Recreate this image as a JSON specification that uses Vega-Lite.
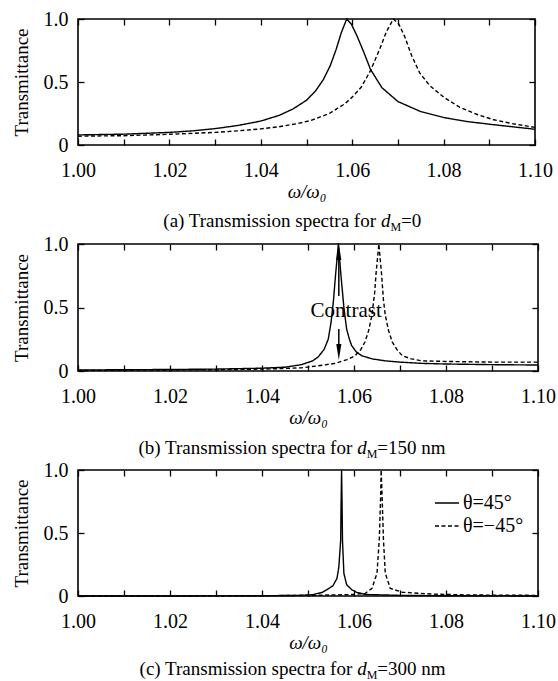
{
  "$schema": "https://vega.github.io/schema/vega-lite/v6.json",
  "background": "white",
  "padding": {"top": 8, "left": 11, "right": 4, "bottom": 0},
  "bounds": "flush",
  "spacing": 99,
  "config": {
    "font": "Liberation Serif",
    "view": {"stroke": "black", "strokeWidth": 1.6},
    "axis": {
      "labelFont": "Liberation Serif", "titleFont": "Liberation Serif",
      "labelFontSize": 20, "titleFontSize": 19, "labelColor": "black", "titleColor": "black",
      "titleFontWeight": "normal", "domain": false, "grid": false,
      "tickColor": "black", "tickSize": -6, "tickWidth": 1.3, "labelOverlap": false, "labelFlush": false
    },
    "text": {"font": "Liberation Serif", "color": "black"},
    "line": {"color": "black", "strokeWidth": 1.4, "strokeJoin": "round"}
  },
  "datasets": {
    "a": [
      {"w": 1.000, "T": 0.080, "s": "θ=45°"}, {"w": 1.010, "T": 0.086, "s": "θ=45°"}, {"w": 1.020, "T": 0.100, "s": "θ=45°"},
      {"w": 1.025, "T": 0.112, "s": "θ=45°"}, {"w": 1.030, "T": 0.130, "s": "θ=45°"}, {"w": 1.035, "T": 0.155, "s": "θ=45°"},
      {"w": 1.040, "T": 0.190, "s": "θ=45°"}, {"w": 1.044, "T": 0.235, "s": "θ=45°"}, {"w": 1.047, "T": 0.285, "s": "θ=45°"},
      {"w": 1.050, "T": 0.355, "s": "θ=45°"}, {"w": 1.052, "T": 0.430, "s": "θ=45°"}, {"w": 1.0537, "T": 0.520, "s": "θ=45°"},
      {"w": 1.0552, "T": 0.630, "s": "θ=45°"}, {"w": 1.0565, "T": 0.760, "s": "θ=45°"}, {"w": 1.0576, "T": 0.890, "s": "θ=45°"},
      {"w": 1.0588, "T": 1.000, "s": "θ=45°"}, {"w": 1.0598, "T": 0.960, "s": "θ=45°"}, {"w": 1.061, "T": 0.870, "s": "θ=45°"},
      {"w": 1.0625, "T": 0.740, "s": "θ=45°"}, {"w": 1.064, "T": 0.600, "s": "θ=45°"}, {"w": 1.0665, "T": 0.455, "s": "θ=45°"},
      {"w": 1.070, "T": 0.345, "s": "θ=45°"}, {"w": 1.075, "T": 0.265, "s": "θ=45°"}, {"w": 1.080, "T": 0.218, "s": "θ=45°"},
      {"w": 1.085, "T": 0.187, "s": "θ=45°"}, {"w": 1.090, "T": 0.165, "s": "θ=45°"}, {"w": 1.095, "T": 0.145, "s": "θ=45°"},
      {"w": 1.100, "T": 0.125, "s": "θ=45°"},
      {"w": 1.000, "T": 0.070, "s": "θ=−45°"}, {"w": 1.010, "T": 0.074, "s": "θ=−45°"}, {"w": 1.020, "T": 0.085, "s": "θ=−45°"},
      {"w": 1.030, "T": 0.100, "s": "θ=−45°"}, {"w": 1.035, "T": 0.112, "s": "θ=−45°"}, {"w": 1.040, "T": 0.128, "s": "θ=−45°"},
      {"w": 1.044, "T": 0.145, "s": "θ=−45°"}, {"w": 1.048, "T": 0.170, "s": "θ=−45°"}, {"w": 1.051, "T": 0.195, "s": "θ=−45°"},
      {"w": 1.055, "T": 0.250, "s": "θ=−45°"}, {"w": 1.0585, "T": 0.330, "s": "θ=−45°"}, {"w": 1.060, "T": 0.380, "s": "θ=−45°"},
      {"w": 1.062, "T": 0.460, "s": "θ=−45°"}, {"w": 1.064, "T": 0.590, "s": "θ=−45°"}, {"w": 1.066, "T": 0.760, "s": "θ=−45°"},
      {"w": 1.0675, "T": 0.900, "s": "θ=−45°"}, {"w": 1.069, "T": 1.000, "s": "θ=−45°"}, {"w": 1.0702, "T": 0.960, "s": "θ=−45°"},
      {"w": 1.0715, "T": 0.860, "s": "θ=−45°"}, {"w": 1.073, "T": 0.710, "s": "θ=−45°"}, {"w": 1.0748, "T": 0.570, "s": "θ=−45°"},
      {"w": 1.077, "T": 0.470, "s": "θ=−45°"}, {"w": 1.080, "T": 0.380, "s": "θ=−45°"}, {"w": 1.0835, "T": 0.300, "s": "θ=−45°"},
      {"w": 1.0875, "T": 0.240, "s": "θ=−45°"}, {"w": 1.091, "T": 0.200, "s": "θ=−45°"}, {"w": 1.095, "T": 0.170, "s": "θ=−45°"},
      {"w": 1.100, "T": 0.140, "s": "θ=−45°"}
    ],
    "b": [
      {"w": 1.000, "T": 0.008, "s": "θ=45°"}, {"w": 1.010, "T": 0.010, "s": "θ=45°"}, {"w": 1.020, "T": 0.012, "s": "θ=45°"},
      {"w": 1.030, "T": 0.015, "s": "θ=45°"}, {"w": 1.040, "T": 0.022, "s": "θ=45°"}, {"w": 1.045, "T": 0.030, "s": "θ=45°"},
      {"w": 1.0486, "T": 0.050, "s": "θ=45°"}, {"w": 1.051, "T": 0.080, "s": "θ=45°"}, {"w": 1.0522, "T": 0.110, "s": "θ=45°"},
      {"w": 1.0535, "T": 0.170, "s": "θ=45°"}, {"w": 1.0544, "T": 0.250, "s": "θ=45°"}, {"w": 1.055, "T": 0.380, "s": "θ=45°"},
      {"w": 1.0555, "T": 0.540, "s": "θ=45°"}, {"w": 1.056, "T": 0.760, "s": "θ=45°"}, {"w": 1.0566, "T": 1.000, "s": "θ=45°"},
      {"w": 1.0572, "T": 0.740, "s": "θ=45°"}, {"w": 1.0578, "T": 0.500, "s": "θ=45°"}, {"w": 1.0584, "T": 0.330, "s": "θ=45°"},
      {"w": 1.059, "T": 0.250, "s": "θ=45°"}, {"w": 1.0595, "T": 0.200, "s": "θ=45°"}, {"w": 1.0605, "T": 0.150, "s": "θ=45°"},
      {"w": 1.0617, "T": 0.120, "s": "θ=45°"}, {"w": 1.064, "T": 0.095, "s": "θ=45°"}, {"w": 1.0668, "T": 0.080, "s": "θ=45°"},
      {"w": 1.070, "T": 0.070, "s": "θ=45°"}, {"w": 1.0748, "T": 0.060, "s": "θ=45°"}, {"w": 1.080, "T": 0.055, "s": "θ=45°"},
      {"w": 1.090, "T": 0.050, "s": "θ=45°"}, {"w": 1.100, "T": 0.047, "s": "θ=45°"},
      {"w": 1.000, "T": 0.004, "s": "θ=−45°"}, {"w": 1.010, "T": 0.006, "s": "θ=−45°"}, {"w": 1.020, "T": 0.008, "s": "θ=−45°"},
      {"w": 1.030, "T": 0.010, "s": "θ=−45°"}, {"w": 1.040, "T": 0.015, "s": "θ=−45°"}, {"w": 1.045, "T": 0.020, "s": "θ=−45°"},
      {"w": 1.0486, "T": 0.025, "s": "θ=−45°"}, {"w": 1.052, "T": 0.040, "s": "θ=−45°"}, {"w": 1.0559, "T": 0.060, "s": "θ=−45°"},
      {"w": 1.0585, "T": 0.090, "s": "θ=−45°"}, {"w": 1.0602, "T": 0.120, "s": "θ=−45°"}, {"w": 1.0615, "T": 0.170, "s": "θ=−45°"},
      {"w": 1.0624, "T": 0.230, "s": "θ=−45°"}, {"w": 1.0632, "T": 0.320, "s": "θ=−45°"}, {"w": 1.0639, "T": 0.440, "s": "θ=−45°"},
      {"w": 1.0645, "T": 0.620, "s": "θ=−45°"}, {"w": 1.0648, "T": 0.770, "s": "θ=−45°"}, {"w": 1.0654, "T": 1.000, "s": "θ=−45°"},
      {"w": 1.066, "T": 0.760, "s": "θ=−45°"}, {"w": 1.0664, "T": 0.560, "s": "θ=−45°"}, {"w": 1.0668, "T": 0.440, "s": "θ=−45°"},
      {"w": 1.0675, "T": 0.320, "s": "θ=−45°"}, {"w": 1.0683, "T": 0.230, "s": "θ=−45°"}, {"w": 1.0693, "T": 0.170, "s": "θ=−45°"},
      {"w": 1.0705, "T": 0.120, "s": "θ=−45°"}, {"w": 1.0725, "T": 0.095, "s": "θ=−45°"}, {"w": 1.0748, "T": 0.080, "s": "θ=−45°"},
      {"w": 1.080, "T": 0.075, "s": "θ=−45°"}, {"w": 1.090, "T": 0.070, "s": "θ=−45°"}, {"w": 1.100, "T": 0.070, "s": "θ=−45°"}
    ],
    "c": [
      {"w": 1.000, "T": 0.000, "s": "θ=45°"}, {"w": 1.020, "T": 0.000, "s": "θ=45°"}, {"w": 1.040, "T": 0.002, "s": "θ=45°"},
      {"w": 1.048, "T": 0.005, "s": "θ=45°"}, {"w": 1.051, "T": 0.010, "s": "θ=45°"}, {"w": 1.0532, "T": 0.030, "s": "θ=45°"},
      {"w": 1.0554, "T": 0.080, "s": "θ=45°"}, {"w": 1.0563, "T": 0.140, "s": "θ=45°"}, {"w": 1.0567, "T": 0.230, "s": "θ=45°"},
      {"w": 1.0571, "T": 0.440, "s": "θ=45°"}, {"w": 1.0572, "T": 0.750, "s": "θ=45°"}, {"w": 1.0573, "T": 1.000, "s": "θ=45°"},
      {"w": 1.0574, "T": 0.750, "s": "θ=45°"}, {"w": 1.0575, "T": 0.440, "s": "θ=45°"}, {"w": 1.0578, "T": 0.180, "s": "θ=45°"},
      {"w": 1.0584, "T": 0.090, "s": "θ=45°"}, {"w": 1.0595, "T": 0.050, "s": "θ=45°"}, {"w": 1.0605, "T": 0.030, "s": "θ=45°"},
      {"w": 1.0625, "T": 0.012, "s": "θ=45°"}, {"w": 1.070, "T": 0.005, "s": "θ=45°"}, {"w": 1.080, "T": 0.002, "s": "θ=45°"},
      {"w": 1.100, "T": 0.000, "s": "θ=45°"},
      {"w": 1.000, "T": 0.000, "s": "θ=−45°"}, {"w": 1.040, "T": 0.002, "s": "θ=−45°"}, {"w": 1.050, "T": 0.005, "s": "θ=−45°"},
      {"w": 1.055, "T": 0.008, "s": "θ=−45°"}, {"w": 1.060, "T": 0.012, "s": "θ=−45°"}, {"w": 1.0624, "T": 0.020, "s": "θ=−45°"},
      {"w": 1.0639, "T": 0.060, "s": "θ=−45°"}, {"w": 1.065, "T": 0.180, "s": "θ=−45°"}, {"w": 1.0655, "T": 0.450, "s": "θ=−45°"},
      {"w": 1.0658, "T": 0.800, "s": "θ=−45°"}, {"w": 1.0659, "T": 1.000, "s": "θ=−45°"}, {"w": 1.0661, "T": 0.800, "s": "θ=−45°"},
      {"w": 1.0664, "T": 0.450, "s": "θ=−45°"}, {"w": 1.0668, "T": 0.180, "s": "θ=−45°"}, {"w": 1.0679, "T": 0.060, "s": "θ=−45°"},
      {"w": 1.0705, "T": 0.030, "s": "θ=−45°"}, {"w": 1.077, "T": 0.015, "s": "θ=−45°"}, {"w": 1.085, "T": 0.008, "s": "θ=−45°"},
      {"w": 1.100, "T": 0.005, "s": "θ=−45°"}
    ]
  },
  "resolve": {"scale": {"strokeDash": "independent"}, "legend": {"strokeDash": "independent"}},
  "vconcat": [
    {
      "width": 457, "height": 126,
      "resolve": {"axis": {"x": "independent", "y": "independent"}},
      "layer": [
        {
          "data": {"name": "a"},
          "mark": {"type": "line"},
          "encoding": {
            "x": {"field": "w", "type": "quantitative",
              "scale": {"domain": [1, 1.1], "nice": false, "zero": false},
              "axis": {"orient": "bottom", "values": [1, 1.01, 1.02, 1.03, 1.04, 1.05, 1.06, 1.07, 1.08, 1.09, 1.1],
                "labelExpr": "round(datum.value * 100) % 2 == 0 ? format(datum.value, '.2f') : ''",
                "labelPadding": 21, "title": "ω/ω₀", "titleFontStyle": "italic", "titlePadding": 2}},
            "y": {"field": "T", "type": "quantitative",
              "scale": {"domain": [0, 1], "nice": false},
              "axis": {"orient": "left", "values": [0, 0.5, 1],
                "labelExpr": "datum.value == 0 ? '0' : format(datum.value, '.1f')",
                "labelPadding": 16, "title": "Transmittance", "titlePadding": 12}},
            "strokeDash": {"field": "s", "type": "nominal",
              "scale": {"domain": ["θ=45°", "θ=−45°"], "range": [[1, 0], [4, 2.5]]}, "legend": null}
          }
        },
        {
          "data": {"values": [{}]},
          "mark": {"type": "text", "text": "(a) Transmission spectra for", "fontSize": 19, "align": "right", "baseline": "alphabetic", "dx": -5},
          "encoding": {
            "x": {"datum": 1.0663, "type": "quantitative",
              "axis": {"orient": "top", "values": [1, 1.01, 1.02, 1.03, 1.04, 1.05, 1.06, 1.07, 1.08, 1.09, 1.1], "labels": false, "title": null}},
            "y": {"datum": -0.65, "type": "quantitative",
              "axis": {"orient": "right", "values": [0, 0.5, 1], "labels": false, "title": null}}
          }
        },
        {
          "data": {"values": [{}]},
          "mark": {"type": "text", "text": "d", "fontSize": 19, "fontStyle": "italic", "align": "left", "baseline": "alphabetic"},
          "encoding": {"x": {"datum": 1.0663, "type": "quantitative", "axis": null}, "y": {"datum": -0.65, "type": "quantitative", "axis": null}}
        },
        {
          "data": {"values": [{}]},
          "mark": {"type": "text", "text": "M", "fontSize": 12, "align": "left", "baseline": "alphabetic", "dx": 9.5, "dy": 4},
          "encoding": {"x": {"datum": 1.0663, "type": "quantitative", "axis": null}, "y": {"datum": -0.65, "type": "quantitative", "axis": null}}
        },
        {
          "data": {"values": [{}]},
          "mark": {"type": "text", "text": "=0", "fontSize": 19, "align": "left", "baseline": "alphabetic", "dx": 20},
          "encoding": {"x": {"datum": 1.0663, "type": "quantitative", "axis": null}, "y": {"datum": -0.65, "type": "quantitative", "axis": null}}
        }
      ]
    },
    {
      "width": 460, "height": 127,
      "resolve": {"axis": {"x": "independent", "y": "independent"}},
      "layer": [
        {
          "data": {"name": "b"},
          "mark": {"type": "line"},
          "encoding": {
            "x": {"field": "w", "type": "quantitative",
              "scale": {"domain": [1, 1.1], "nice": false, "zero": false},
              "axis": {"orient": "bottom", "values": [1, 1.01, 1.02, 1.03, 1.04, 1.05, 1.06, 1.07, 1.08, 1.09, 1.1],
                "labelExpr": "round(datum.value * 100) % 2 == 0 ? format(datum.value, '.2f') : ''",
                "labelPadding": 21, "title": "ω/ω₀", "titleFontStyle": "italic", "titlePadding": 2}},
            "y": {"field": "T", "type": "quantitative",
              "scale": {"domain": [0, 1], "nice": false},
              "axis": {"orient": "left", "values": [0, 0.5, 1],
                "labelExpr": "datum.value == 0 ? '0' : format(datum.value, '.1f')",
                "labelPadding": 16, "title": "Transmittance", "titlePadding": 12}},
            "strokeDash": {"field": "s", "type": "nominal",
              "scale": {"domain": ["θ=45°", "θ=−45°"], "range": [[1, 0], [4, 2.5]]}, "legend": null}
          }
        },
        {
          "data": {"values": [{}]},
          "mark": {"type": "rule", "strokeWidth": 1.5, "color": "black"},
          "encoding": {"x": {"datum": 1.0567, "type": "quantitative", "axis": null},
            "y": {"datum": 0.59, "type": "quantitative", "axis": null}, "y2": {"datum": 0.93}}
        },
        {
          "data": {"values": [{}]},
          "mark": {"type": "rule", "strokeWidth": 1.5, "color": "black"},
          "encoding": {"x": {"datum": 1.0567, "type": "quantitative", "axis": null},
            "y": {"datum": 0.33, "type": "quantitative", "axis": null}, "y2": {"datum": 0.15}}
        },
        {
          "data": {"values": [{}]},
          "mark": {"type": "point", "shape": "M0,-1L0.32,1L-0.32,1Z", "size": 256, "filled": true, "color": "black", "opacity": 1},
          "encoding": {"x": {"datum": 1.0567, "type": "quantitative", "axis": null},
            "y": {"datum": 0.937, "type": "quantitative", "axis": null}}
        },
        {
          "data": {"values": [{}]},
          "mark": {"type": "point", "shape": "M0,1L0.32,-1L-0.32,-1Z", "size": 256, "filled": true, "color": "black", "opacity": 1},
          "encoding": {"x": {"datum": 1.0567, "type": "quantitative", "axis": null},
            "y": {"datum": 0.15, "type": "quantitative", "axis": null}}
        },
        {
          "data": {"values": [{}]},
          "mark": {"type": "text", "text": "Contrast", "fontSize": 21, "align": "center", "baseline": "middle"},
          "encoding": {"x": {"datum": 1.0583, "type": "quantitative", "axis": null},
            "y": {"datum": 0.47, "type": "quantitative", "axis": null}}
        },
        {
          "data": {"values": [{}]},
          "mark": {"type": "text", "text": "(b) Transmission spectra for", "fontSize": 19, "align": "right", "baseline": "alphabetic", "dx": -5},
          "encoding": {
            "x": {"datum": 1.0607, "type": "quantitative",
              "axis": {"orient": "top", "values": [1, 1.01, 1.02, 1.03, 1.04, 1.05, 1.06, 1.07, 1.08, 1.09, 1.1], "labels": false, "title": null}},
            "y": {"datum": -0.65, "type": "quantitative",
              "axis": {"orient": "right", "values": [0, 0.5, 1], "labels": false, "title": null}}
          }
        },
        {
          "data": {"values": [{}]},
          "mark": {"type": "text", "text": "d", "fontSize": 19, "fontStyle": "italic", "align": "left", "baseline": "alphabetic"},
          "encoding": {"x": {"datum": 1.0607, "type": "quantitative", "axis": null}, "y": {"datum": -0.65, "type": "quantitative", "axis": null}}
        },
        {
          "data": {"values": [{}]},
          "mark": {"type": "text", "text": "M", "fontSize": 12, "align": "left", "baseline": "alphabetic", "dx": 9.5, "dy": 4},
          "encoding": {"x": {"datum": 1.0607, "type": "quantitative", "axis": null}, "y": {"datum": -0.65, "type": "quantitative", "axis": null}}
        },
        {
          "data": {"values": [{}]},
          "mark": {"type": "text", "text": "=150 nm", "fontSize": 19, "align": "left", "baseline": "alphabetic", "dx": 20},
          "encoding": {"x": {"datum": 1.0607, "type": "quantitative", "axis": null}, "y": {"datum": -0.65, "type": "quantitative", "axis": null}}
        }
      ]
    },
    {
      "width": 460, "height": 126,
      "resolve": {"axis": {"x": "independent", "y": "independent"}},
      "layer": [
        {
          "data": {"name": "c"},
          "mark": {"type": "line"},
          "encoding": {
            "x": {"field": "w", "type": "quantitative",
              "scale": {"domain": [1, 1.1], "nice": false, "zero": false},
              "axis": {"orient": "bottom", "values": [1, 1.01, 1.02, 1.03, 1.04, 1.05, 1.06, 1.07, 1.08, 1.09, 1.1],
                "labelExpr": "round(datum.value * 100) % 2 == 0 ? format(datum.value, '.2f') : ''",
                "labelPadding": 21, "title": "ω/ω₀", "titleFontStyle": "italic", "titlePadding": 2}},
            "y": {"field": "T", "type": "quantitative",
              "scale": {"domain": [0, 1], "nice": false},
              "axis": {"orient": "left", "values": [0, 0.5, 1],
                "labelExpr": "datum.value == 0 ? '0' : format(datum.value, '.1f')",
                "labelPadding": 16, "title": "Transmittance", "titlePadding": 12}},
            "strokeDash": {"field": "s", "type": "nominal",
              "scale": {"domain": ["θ=45°", "θ=−45°"], "range": [[1, 0], [4, 2.5]]},
              "legend": {"orient": "none", "legendX": 356, "legendY": 20, "title": null,
                "labelFont": "Liberation Serif", "labelFontSize": 20, "labelColor": "black", "labelOffset": 3,
                "symbolType": "stroke", "symbolSize": 576, "symbolStrokeWidth": 1.4, "symbolStrokeColor": "black",
                "rowPadding": -2}}
          }
        },
        {
          "data": {"values": [{}]},
          "mark": {"type": "text", "text": "(c) Transmission spectra for", "fontSize": 19, "align": "right", "baseline": "alphabetic", "dx": -5},
          "encoding": {
            "x": {"datum": 1.0607, "type": "quantitative",
              "axis": {"orient": "top", "values": [1, 1.01, 1.02, 1.03, 1.04, 1.05, 1.06, 1.07, 1.08, 1.09, 1.1], "labels": false, "title": null}},
            "y": {"datum": -0.63, "type": "quantitative",
              "axis": {"orient": "right", "values": [0, 0.5, 1], "labels": false, "title": null}}
          }
        },
        {
          "data": {"values": [{}]},
          "mark": {"type": "text", "text": "d", "fontSize": 19, "fontStyle": "italic", "align": "left", "baseline": "alphabetic"},
          "encoding": {"x": {"datum": 1.0607, "type": "quantitative", "axis": null}, "y": {"datum": -0.63, "type": "quantitative", "axis": null}}
        },
        {
          "data": {"values": [{}]},
          "mark": {"type": "text", "text": "M", "fontSize": 12, "align": "left", "baseline": "alphabetic", "dx": 9.5, "dy": 4},
          "encoding": {"x": {"datum": 1.0607, "type": "quantitative", "axis": null}, "y": {"datum": -0.63, "type": "quantitative", "axis": null}}
        },
        {
          "data": {"values": [{}]},
          "mark": {"type": "text", "text": "=300 nm", "fontSize": 19, "align": "left", "baseline": "alphabetic", "dx": 20},
          "encoding": {"x": {"datum": 1.0607, "type": "quantitative", "axis": null}, "y": {"datum": -0.63, "type": "quantitative", "axis": null}}
        }
      ]
    }
  ]
}
